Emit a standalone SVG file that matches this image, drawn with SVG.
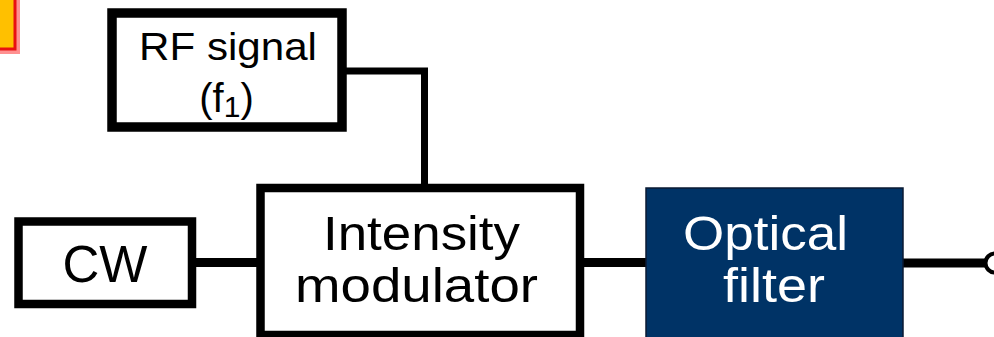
<svg xmlns="http://www.w3.org/2000/svg" width="994" height="337" viewBox="0 0 994 337">
<style>
.box{fill:#fff;stroke:#000;}
.wire{fill:none;stroke:#000;stroke-width:9;stroke-linejoin:miter;stroke-linecap:butt;}
.t{font-family:"Liberation Sans",Arial,sans-serif;fill:#000;text-anchor:middle;}
.w{fill:#fff;}
</style>
<rect width="994" height="337" fill="#fff"/>
<g id="marker">
<rect x="-20" y="-20" width="38" height="72" fill="none" stroke="#ff9090" stroke-width="4"/>
<rect x="-20" y="-20" width="35" height="69" fill="#ffc000" stroke="#e81010" stroke-width="3"/>
</g>
<g id="connectors">
<path class="wire" d="M342 71 H424.5 V188" style="stroke-width:7"/>
<path class="wire" d="M192 262.5 H260"/>
<path class="wire" d="M580 262.5 H646"/>
<path class="wire" d="M903 263 H986"/>
<circle cx="995" cy="263" r="9.5" fill="#fff" stroke="#000" stroke-width="4"/>
</g>
<g id="rf">
<rect class="box" x="112" y="13" width="230" height="114" stroke-width="9.5"/>
<text class="t" x="228" y="60" font-size="39" textLength="178" lengthAdjust="spacingAndGlyphs">RF signal</text>
<text class="t" x="226.5" y="112" font-size="40">(f<tspan font-size="30" dy="5">1</tspan><tspan dy="-5">)</tspan></text>
</g>
<g id="cw">
<rect class="box" x="18.5" y="221.5" width="173.5" height="82.5" stroke-width="8.5"/>
<text class="t" x="105" y="282" font-size="51">CW</text>
</g>
<g id="modulator">
<rect class="box" x="260.5" y="188" width="319.5" height="147" stroke-width="8.5"/>
<text class="t" x="421.5" y="250" font-size="49" textLength="197" lengthAdjust="spacingAndGlyphs">Intensity</text>
<text class="t" x="416.5" y="302" font-size="49" textLength="243" lengthAdjust="spacingAndGlyphs">modulator</text>
</g>
<g id="filter">
<rect x="646" y="188" width="257" height="160" fill="#003366" stroke="#0a1a33" stroke-width="1.5"/>
<text class="t w" x="765.5" y="250" font-size="49" textLength="165" lengthAdjust="spacingAndGlyphs">Optical</text>
<text class="t w" x="774" y="302" font-size="49" textLength="102" lengthAdjust="spacingAndGlyphs">filter</text>
</g>
</svg>
